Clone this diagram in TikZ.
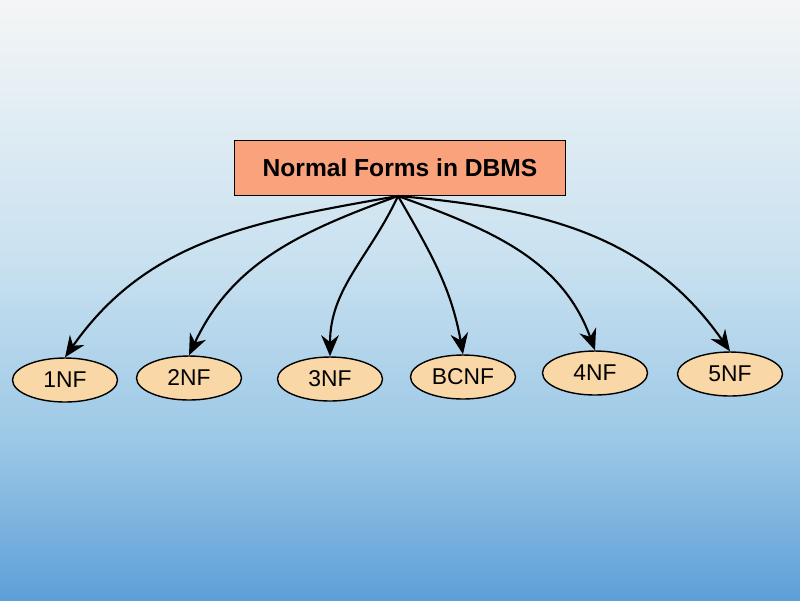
\documentclass[tikz,border=0pt]{standalone}
\usepackage{fontspec}
\setmainfont{Liberation Sans}
\usetikzlibrary{shapes.geometric,arrows.meta}
\begin{document}
\begin{tikzpicture}[x=0.02cm,y=-0.02cm,
  nf/.style={ellipse,draw=black,thick,fill=nfc,minimum width=2.1cm,minimum height=0.88cm,font=\fontsize{13}{15}\selectfont},
  arr/.style={-{Stealth[length=12pt,width=10pt]},very thick}]
\definecolor{nfc}{HTML}{FAD7A6}
\definecolor{ttl}{HTML}{F9A27C}
\definecolor{bg1}{HTML}{F4F6F6}
\definecolor{bg2}{HTML}{C9E1F0}
\definecolor{bg3}{HTML}{9CC8E6}
\definecolor{bg4}{HTML}{5E9FD8}
\fill[top color=bg1,bottom color=bg2] (0,0) rectangle (800,260);
\fill[top color=bg2,bottom color=bg3] (0,260) rectangle (800,440);
\fill[top color=bg3,bottom color=bg4] (0,440) rectangle (800,600);
\useasboundingbox (0,0) rectangle (800,600);
\node[draw=black,thick,fill=ttl,minimum width=6.62cm,minimum height=1.1cm,font=\bfseries\fontsize{14}{17}\selectfont] (t) at (400,168) {Normal Forms in DBMS};
\node[nf] (a) at (65,380) {1NF};
\node[nf] (b) at (189,378) {2NF};
\node[nf] (c) at (330,379) {3NF};
\node[nf] (d) at (463,377) {BCNF};
\node[nf] (e) at (595,373) {4NF};
\node[nf] (f) at (730,374) {5NF};
\coordinate (s) at (398,196);
\draw[arr] (s) to[out=190,in=55] (a.north);
\draw[arr] (s) to[out=200,in=65] (b.north);
\draw[arr] (s) to[out=245,in=90] (c.north);
\draw[arr] (s) to[out=300,in=100] (d.north);
\draw[arr] (s) to[out=340,in=110] (e.north);
\draw[arr] (s) to[out=355,in=125] (f.north);
\end{tikzpicture}
\end{document}
